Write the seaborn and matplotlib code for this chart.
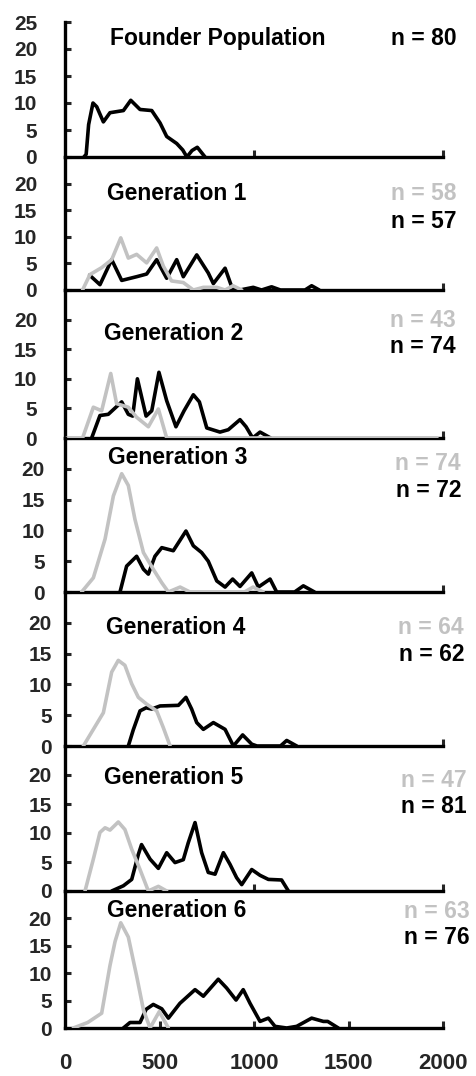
import matplotlib
matplotlib.use("Agg")
import matplotlib.pyplot as plt
import pandas as pd
import seaborn as sns

# ---------------- data ----------------
panel_titles = ["Founder Population", "Generation 1", "Generation 2", "Generation 3",
                "Generation 4", "Generation 5", "Generation 6"]
black_n = [80, 57, 74, 72, 62, 81, 76]
gray_n = [None, 58, 43, 74, 64, 47, 63]

x_tick_values = [0, 500, 1000, 1500, 2000]
y_tick_values = [0, 5, 10, 15, 20, 25]

founder_x = [100, 112, 125, 148, 168, 203, 238, 309, 348, 397, 459, 503, 538, 591, 623, 645, 672, 700, 741]
founder_y = [0, 0.5, 6, 10, 9.3, 6.5, 8.2, 8.6, 10.5, 8.8, 8.6, 6.3, 3.8, 2.5, 1.3, 0, 1.2, 1.8, 0]

g1_gray_x = [93, 132, 194, 247, 295, 335, 379, 432, 485, 520, 564, 626, 679, 732, 803, 847, 889, 935]
g1_gray_y = [0, 2.9, 4.2, 5.7, 9.8, 6.0, 6.7, 5.1, 7.9, 4.5, 1.7, 1.4, 0, 0.5, 0.5, 0, 0.8, 0]
g1_black_x = [130, 185, 247, 300, 379, 432, 485, 538, 591, 626, 697, 758, 785, 847, 882, 926, 996, 1040,
              1093, 1140, 1270, 1305, 1345]
g1_black_y = [2.8, 1.0, 5.7, 1.8, 2.5, 3.0, 5.7, 2.2, 5.7, 2.5, 6.6, 3.2, 1.2, 4.1, 0.6, 0, 0.5, 0,
              0.6, 0, 0, 0.8, 0]

g2_gray_x = [10, 93, 150, 194, 242, 273, 335, 379, 441, 494, 538, 1968]
g2_gray_y = [0, 0, 5.2, 4.6, 10.9, 5.8, 5.2, 3.5, 1.9, 4.9, 0, 0]
g2_black_x = [141, 185, 229, 300, 335, 358, 383, 429, 459, 497, 538, 587, 630, 679, 711, 750, 820, 864,
              926, 958, 993, 1032, 1088]
g2_black_y = [0, 3.8, 4.0, 6.1, 4.0, 3.7, 10.0, 3.7, 4.6, 11.1, 6.3, 1.9, 4.6, 7.3, 6.1, 1.7, 1.0, 1.4,
              3.1, 1.9, 0, 1.0, 0]

g3_gray_x = [88, 150, 212, 256, 300, 335, 370, 415, 467, 512, 547, 609, 661, 950, 995, 1048]
g3_gray_y = [0, 2.3, 8.6, 15.6, 19.2, 17.3, 11.8, 6.4, 3.7, 1.5, 0, 0.8, 0, 0, 0.8, 0]
g3_black_x = [291, 326, 379, 415, 441, 476, 512, 573, 640, 679, 723, 758, 803, 847, 887, 926, 988, 1023,
              1085, 1120, 1215, 1261, 1320]
g3_black_y = [0, 4.2, 5.8, 3.7, 2.9, 5.8, 7.2, 6.7, 9.9, 7.5, 6.4, 5.0, 1.8, 0.8, 2.1, 0.9, 3.1, 0.8,
              2.1, 0, 0, 1.0, 0]

g4_gray_x = [97, 150, 203, 247, 282, 317, 353, 388, 432, 485, 520, 556]
g4_gray_y = [0, 2.7, 5.4, 12.0, 13.9, 13.1, 10.1, 7.9, 6.8, 5.7, 3.0, 0]
g4_black_x = [335, 361, 397, 429, 459, 503, 600, 640, 670, 697, 732, 785, 847, 891, 940, 988, 1016,
              1140, 1173, 1226]
g4_black_y = [0, 2.6, 5.7, 6.2, 6.0, 6.5, 6.6, 7.9, 6.0, 3.8, 2.7, 3.8, 2.7, 0, 1.8, 0.3, 0,
              0, 0.9, 0]

g5_gray_x = [106, 150, 185, 212, 238, 282, 317, 353, 397, 441, 494, 538]
g5_gray_y = [0, 5.5, 10.1, 10.9, 10.5, 11.9, 10.6, 7.2, 3.7, 0, 0.8, 0]
g5_black_x = [247, 309, 353, 388, 405, 450, 494, 538, 582, 626, 652, 688, 723, 758, 794, 838, 873, 908,
              935, 988, 1032, 1076, 1146, 1182]
g5_black_y = [0, 0.9, 2.0, 6.3, 8.0, 5.5, 3.9, 6.6, 4.9, 5.4, 8.3, 11.8, 6.6, 3.2, 2.9, 6.6, 4.6, 2.3,
              1.1, 3.7, 2.7, 2.0, 1.9, 0]

g6_gray_x = [44, 120, 194, 238, 265, 295, 335, 379, 415, 450, 499, 547]
g6_gray_y = [0, 1.0, 2.7, 11.4, 15.8, 19.2, 16.6, 9.5, 3.3, 0, 3.0, 0]
g6_black_x = [309, 344, 397, 429, 467, 512, 547, 608, 688, 732, 811, 855, 905, 943, 979, 1032, 1076,
              1111, 1173, 1226, 1305, 1367, 1390, 1446]
g6_black_y = [0, 1.0, 1.0, 3.4, 4.3, 3.5, 1.8, 4.5, 7.0, 5.8, 8.9, 7.3, 5.1, 7.0, 4.5, 1.2, 1.8,
              0.3, 0, 0.3, 1.8, 1.2, 1.2, 0]

black_series = [(founder_x, founder_y), (g1_black_x, g1_black_y), (g2_black_x, g2_black_y),
                (g3_black_x, g3_black_y), (g4_black_x, g4_black_y), (g5_black_x, g5_black_y),
                (g6_black_x, g6_black_y)]
gray_series = [None, (g1_gray_x, g1_gray_y), (g2_gray_x, g2_gray_y), (g3_gray_x, g3_gray_y),
               (g4_gray_x, g4_gray_y), (g5_gray_x, g5_gray_y), (g6_gray_x, g6_gray_y)]

# ---------------- layout / style ----------------
sns.set_style("white")
plt.rcParams["font.family"] = ["Liberation Sans", "DejaVu Sans"]
plt.rcParams["font.weight"] = "bold"
plt.rcParams["lines.solid_joinstyle"] = "round"
plt.rcParams["lines.solid_capstyle"] = "round"

W, H = 477, 1076
bounds = [22, 157, 290, 438, 592, 746, 891, 1028]      # panel edges in px
ax_left_px, ax_right_px = 65, 443
ytick_pad = [20, 20, 20, 14.5, 9.5, 9.5, 9.5]
xtick_sets = [[1000, 2000], [2000], [2000], [2000], [2000], [1000, 2000], [500, 1000, 1500, 2000]]
title_x = [238, 222, 206, 230, 217, 206, 222]
title_y = [21.9, 18.2, 17.7, 21.8, 19.2, 19.5, 21.5]
n_right_px = [457, 457, 456, 461, 464, 467, 470]
gray_n_y = [None, 18.2, 19.9, 20.8, 19.2, 19.1, 21.3]
black_n_y = [21.9, 12.8, 15.4, 16.4, 14.8, 14.5, 16.6]

GRAY = "#c2c2c2"
LW = 2.6
FS_TEXT = 16.5
FS_TICK = 15
FS_XTICK = 16

fig = plt.figure(figsize=(W / 100, H / 100), dpi=100)

for i in range(7):
    top, bot = bounds[i], bounds[i + 1]
    ax = fig.add_axes([ax_left_px / W, 1 - bot / H, (ax_right_px - ax_left_px) / W, (bot - top) / H])
    ax.set_facecolor("none")

    frames = []
    bx, by = black_series[i]
    frames.append(pd.DataFrame({"x": bx, "y": by, "series": "black"}))
    if gray_series[i] is not None:
        gx, gy = gray_series[i]
        frames.append(pd.DataFrame({"x": gx, "y": gy, "series": "gray"}))
    df = pd.concat(frames, ignore_index=True)
    order = [s for s in ["black", "gray"] if s in df["series"].unique()]
    sns.lineplot(data=df, x="x", y="y", hue="series", hue_order=order,
                 palette={"black": "black", "gray": GRAY}, estimator=None, sort=False,
                 linewidth=LW, legend=False, ax=ax, zorder=3)

    ax.set_xlim(0, 2000)
    ax.set_ylim(0, 25)
    ax.set_xlabel("")
    ax.set_ylabel("")
    for s in ["top", "right"]:
        ax.spines[s].set_visible(False)
    for s in ["left", "bottom"]:
        ax.spines[s].set_linewidth(2.4)
        ax.spines[s].set_color("black")
        ax.spines[s].set_zorder(2)

    yt = y_tick_values if i == 0 else y_tick_values[:-1]
    ax.set_yticks(yt)
    ax.set_yticklabels([str(v) for v in yt], fontsize=FS_TICK, fontweight="bold")
    ax.tick_params(axis="y", direction="in", length=4, width=2.2, pad=ytick_pad[i], left=True)

    if i == 6:
        ax.set_xticks(x_tick_values)
        ax.set_xticklabels([str(v) for v in x_tick_values], fontsize=FS_XTICK, fontweight="bold")
        ax.tick_params(axis="x", direction="in", length=5, width=2.2, pad=18, bottom=True)
        ax.xaxis.get_major_ticks()[0].tick1line.set_visible(False)
    else:
        ax.set_xticks(xtick_sets[i])
        ax.set_xticklabels([])
        ax.tick_params(axis="x", direction="in", length=5, width=2.2, bottom=True)

    ax.text(title_x[i], title_y[i], panel_titles[i], fontsize=FS_TEXT, fontweight="bold",
            ha="left", va="center", color="black")
    nx = (n_right_px[i] - ax_left_px) * 2000 / (ax_right_px - ax_left_px)
    if gray_n[i] is not None:
        ax.text(nx, gray_n_y[i], f"n = {gray_n[i]}", fontsize=FS_TEXT, fontweight="bold",
                ha="right", va="center", color=GRAY, clip_on=False)
    ax.text(nx, black_n_y[i], f"n = {black_n[i]}", fontsize=FS_TEXT, fontweight="bold",
            ha="right", va="center", color="black", clip_on=False)

fig.savefig("out.png", dpi=100, facecolor="white")
